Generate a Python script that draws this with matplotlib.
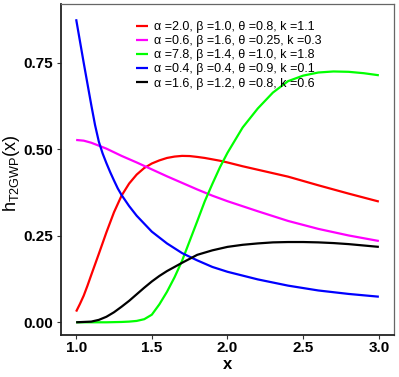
import matplotlib
matplotlib.use("Agg")
import matplotlib.pyplot as plt

plt.rcParams['font.family'] = ['Liberation Sans', 'DejaVu Sans']

labels = [
    "α =2.0, β =1.0, θ =0.8, k =1.1",
    "α =0.6, β =1.6, θ =0.25, k =0.3",
    "α =7.8, β =1.4, θ =1.0, k =1.8",
    "α =0.4, β =0.4, θ =0.9, k =0.1",
    "α =1.6, β =1.2, θ =0.8, k =0.6",
]
colors = ["#FF0000", "#FF00FF", "#00FF00", "#0000FF", "#000000"]

red_x = [1.0, 1.025, 1.05, 1.075, 1.1, 1.15, 1.2, 1.25, 1.3, 1.35, 1.4, 1.45, 1.5, 1.55, 1.6, 1.65, 1.7, 1.75, 1.8, 1.85, 1.9, 1.95, 2.0, 2.1, 2.2, 2.3, 2.4, 2.6, 2.8, 3.0]
red_y = [0.031, 0.053, 0.077, 0.106, 0.137, 0.198, 0.26, 0.318, 0.366, 0.401, 0.427, 0.446, 0.459, 0.468, 0.475, 0.479, 0.481, 0.4805, 0.478, 0.475, 0.471, 0.467, 0.462, 0.451, 0.441, 0.431, 0.421, 0.396, 0.372, 0.349]

mag_x = [1.0, 1.05, 1.1, 1.2, 1.3, 1.4, 1.5, 1.6, 1.7, 1.8, 1.9, 2.0, 2.2, 2.4, 2.6, 2.8, 3.0]
mag_y = [0.527, 0.525, 0.519, 0.502, 0.481, 0.462, 0.442, 0.422, 0.403, 0.384, 0.366, 0.350, 0.321, 0.293, 0.270, 0.251, 0.235]

grn_x = [1.0, 1.2, 1.3, 1.35, 1.4, 1.45, 1.5, 1.55, 1.6, 1.65, 1.7, 1.75, 1.8, 1.85, 1.9, 1.95, 2.0, 2.1, 2.2, 2.3, 2.4, 2.5, 2.6, 2.7, 2.8, 2.9, 3.0]
grn_y = [0.0, 0.0, 0.001, 0.002, 0.004, 0.009, 0.022, 0.052, 0.088, 0.13, 0.178, 0.235, 0.292, 0.35, 0.40, 0.448, 0.49, 0.563, 0.618, 0.664, 0.697, 0.713, 0.722, 0.725, 0.724, 0.720, 0.714]

blu_x = [1.0, 1.05, 1.1, 1.125, 1.15, 1.175, 1.2, 1.225, 1.25, 1.275, 1.3, 1.35, 1.4, 1.5, 1.6, 1.7, 1.8, 1.9, 2.0, 2.2, 2.4, 2.6, 2.8, 3.0]
blu_y = [0.876, 0.75, 0.628, 0.57, 0.522, 0.488, 0.460, 0.434, 0.410, 0.387, 0.368, 0.336, 0.308, 0.262, 0.228, 0.200, 0.179, 0.160, 0.146, 0.124, 0.106, 0.092, 0.082, 0.074]

blk_x = [1.0, 1.1, 1.15, 1.2, 1.25, 1.3, 1.35, 1.4, 1.45, 1.5, 1.55, 1.6, 1.65, 1.7, 1.8, 1.9, 2.0, 2.1, 2.2, 2.3, 2.4, 2.5, 2.6, 2.7, 2.8, 2.9, 3.0]
blk_y = [0.0, 0.002, 0.007, 0.016, 0.029, 0.045, 0.062, 0.081, 0.100, 0.118, 0.134, 0.148, 0.160, 0.172, 0.195, 0.208, 0.218, 0.224, 0.228, 0.231, 0.232, 0.232, 0.231, 0.229, 0.226, 0.222, 0.218]

xticks = [1.0, 1.5, 2.0, 2.5, 3.0]
xtick_labels = ["1.0", "1.5", "2.0", "2.5", "3.0"]
yticks = [0.0, 0.25, 0.5, 0.75]
ytick_labels = ["0.00", "0.25", "0.50", "0.75"]

W, H = 399, 377
fig = plt.figure(figsize=(W / 100, H / 100), dpi=100)
ax = fig.add_axes([61 / W, (H - 335) / H, (394 - 61) / W, (335 - 4) / H])

series = [(red_x, red_y), (mag_x, mag_y), (grn_x, grn_y), (blu_x, blu_y), (blk_x, blk_y)]
for (xs, ys), c, lab in zip(series, colors, labels):
    ax.plot(xs, ys, color=c, lw=1.6, label=lab, solid_capstyle='butt', solid_joinstyle='round')

ax.set_xlim(0.9, 3.1)
ax.set_ylim(-0.0367, 0.92)
ax.set_xticks(xticks)
ax.set_xticklabels(xtick_labels)
ax.set_yticks(yticks)
ax.set_yticklabels(ytick_labels)
for t in ax.get_xticklabels() + ax.get_yticklabels():
    t.set_fontweight('bold')
    t.set_fontsize(11)
    t.set_color('black')
ax.tick_params(axis='both', direction='out', length=3, width=0.8, color='#333333', pad=2.5)
ax.tick_params(axis='x', pad=1.5)

for s in ['left', 'bottom']:
    ax.spines[s].set_color('#222222')
    ax.spines[s].set_linewidth(1.3)
for s in ['top', 'right']:
    ax.spines[s].set_color('#666666')
    ax.spines[s].set_linewidth(0.9)

ax.set_xlabel('x', fontsize=12, fontweight='bold', labelpad=1)
ax.set_ylabel(r'h$_{\mathregular{T2GWP}}$(x)', fontsize=13)
ax.yaxis.set_label_coords(-0.118, 0.49)

leg = ax.legend(loc='upper left', bbox_to_anchor=((136 - 61) / 333, (335 - 21) / 331),
                frameon=False, fontsize=9, handlelength=0.95, handletextpad=0.45,
                labelspacing=0.17, borderpad=0, borderaxespad=0)

fig.savefig('out.png', dpi=100)
